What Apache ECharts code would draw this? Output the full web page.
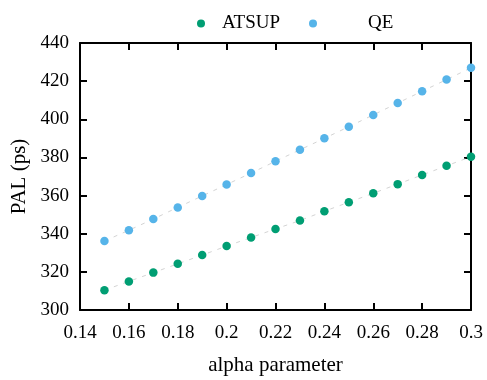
<!DOCTYPE html>
<html><head><meta charset="utf-8">
<script src="https://cdn.jsdelivr.net/npm/echarts@6/dist/echarts.min.js"></script>
<style>html,body{margin:0;padding:0;background:#fff}#c{width:487px;height:380px}</style>
</head><body><div id="c"></div>
<script>
const alphaValues = [0.15,0.16,0.17,0.18,0.19,0.20,0.21,0.22,0.23,0.24,0.25,0.26,0.27,0.28,0.29,0.30];
const atsupValues = [310.4,315.0,319.6,324.2,328.8,333.5,338.0,342.5,346.9,351.8,356.5,361.2,366.0,370.8,375.6,380.4];
const qeValues = [336.2,341.8,347.7,353.8,359.8,365.8,371.8,378.0,384.0,390.0,396.1,402.3,408.5,414.7,420.8,427.0];
const seriesNames = ['ATSUP','QE'];
const xTicks = {min:0.14,max:0.30,interval:0.02};
const yTicks = {min:300,max:440,interval:20};

const font = 'Liberation Serif';
const pairs = arr => alphaValues.map((x,i)=>[x,arr[i]]);
const chart = echarts.init(document.getElementById('c'));
const axisCommon = {
  axisLine:{show:true,onZero:false,lineStyle:{color:'#000',width:2}},
  axisTick:{show:true,inside:true,length:7,lineStyle:{color:'#000',width:2}},
  splitLine:{show:false}
};
chart.setOption({
  animation:false,
  backgroundColor:'#fff',
  textStyle:{fontFamily:font},
  legend:[
    {data:[seriesNames[0]],left:192,top:9,itemWidth:8,itemHeight:8,icon:'circle',
     textStyle:{fontFamily:font,fontSize:19,color:'#000',padding:[0,0,0,12]}},
    {data:[seriesNames[1]],left:304,top:9,itemWidth:8,itemHeight:8,icon:'circle',
     textStyle:{fontFamily:font,fontSize:19,color:'#000',padding:[0,0,0,46]}}
  ],
  grid:{left:80,right:16,top:43,bottom:70,outerBoundsMode:'none',containLabel:false},
  xAxis:[
    Object.assign({type:'value',position:'bottom',min:xTicks.min,max:xTicks.max,interval:xTicks.interval,
      name:'alpha parameter',nameLocation:'middle',nameGap:45,
      nameTextStyle:{fontFamily:font,fontSize:21,color:'#000'},
      axisLabel:{fontFamily:font,fontSize:19,color:'#000',margin:14,formatter:v=>String(+v.toFixed(2))}},axisCommon),
    Object.assign({type:'value',position:'top',min:xTicks.min,max:xTicks.max,interval:xTicks.interval,
      axisLabel:{show:false}},axisCommon)
  ],
  yAxis:[
    Object.assign({type:'value',position:'left',min:yTicks.min,max:yTicks.max,interval:yTicks.interval,
      name:'PAL (ps)',nameLocation:'middle',nameGap:43,
      nameTextStyle:{fontFamily:font,fontSize:21,color:'#000'},
      axisLabel:{fontFamily:font,fontSize:19,color:'#000',margin:11}},axisCommon),
    Object.assign({type:'value',position:'right',min:yTicks.min,max:yTicks.max,interval:yTicks.interval,
      axisLabel:{show:false}},axisCommon)
  ],
  series:[
    {type:'line',data:pairs(atsupValues),showSymbol:false,symbol:'none',silent:true,z:1,
     lineStyle:{color:'#d4d4d4',width:1,type:[4,6]}},
    {type:'line',data:pairs(qeValues),showSymbol:false,symbol:'none',silent:true,z:1,
     lineStyle:{color:'#d4d4d4',width:1,type:[4,6]}},
    {name:seriesNames[0],type:'scatter',data:pairs(atsupValues),symbol:'circle',symbolSize:8.5,z:3,
     itemStyle:{color:'#009e73',opacity:1}},
    {name:seriesNames[1],type:'scatter',data:pairs(qeValues),symbol:'circle',symbolSize:8.5,z:3,
     itemStyle:{color:'#56b4e9',opacity:1}}
  ]
});
</script></body></html>
